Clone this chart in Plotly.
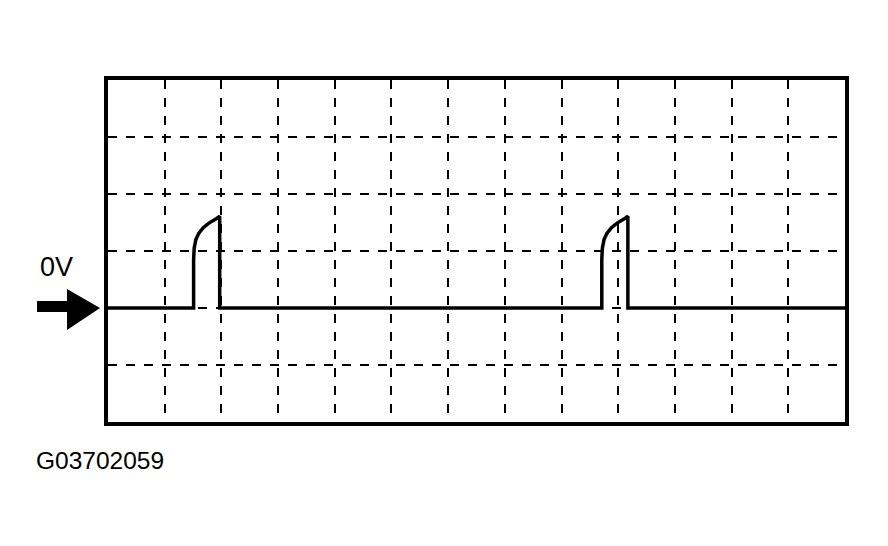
import plotly.graph_objects as go

# scope trace, in grid divisions (13 x 6 screen, 0 V on the 4th line down)
time_div = [0, 1.51, 1.51, 1.52, 1.55, 1.60, 1.68, 1.78, 1.90, 1.97, 1.97,
            8.71, 8.71, 8.72, 8.75, 8.80, 8.88, 8.98, 9.10, 9.17, 9.17, 13]
volt_div = [0, 0, 0.85, 1.05, 1.20, 1.31, 1.41, 1.49, 1.56, 1.61, 0,
            0, 0.85, 1.05, 1.20, 1.31, 1.41, 1.49, 1.56, 1.61, 0, 0]

x_divs = 13
y_min, y_max = -2, 4
zero_label = "0V"
fig_code = "G03702059"

fig = go.Figure()
fig.add_trace(go.Scatter(x=time_div, y=volt_div, mode="lines",
                         line=dict(color="black", width=3.5), hoverinfo="skip"))

axis_style = dict(showgrid=True, gridcolor="black", gridwidth=2, griddash="dash",
                  zeroline=False, showticklabels=False, ticks="",
                  showline=True, linecolor="black", linewidth=4, mirror=True, dtick=1)
fig.update_xaxes(range=[0, x_divs], **axis_style)
fig.update_yaxes(range=[y_min, y_max], **axis_style)

# big black arrow pointing at the 0 V line
y0 = (0 - y_min) / (y_max - y_min)
fig.add_shape(type="path", xref="paper", yref="paper", line_width=0, fillcolor="black",
              path=f"M -0.0963 {y0 + 0.0204} L -0.0556 {y0 + 0.0204} L -0.0556 {y0 + 0.0555} "
                   f"L -0.0108 {y0} L -0.0556 {y0 - 0.064} L -0.0556 {y0 - 0.0117} "
                   f"L -0.0963 {y0 - 0.0117} Z")

fig.add_annotation(text=zero_label, xref="paper", yref="paper", x=-0.0692, y=0.4526,
                   xanchor="center", yanchor="middle", showarrow=False,
                   font=dict(family="Liberation Sans", size=27, color="black"))
fig.add_annotation(text=fig_code, xref="paper", yref="paper", x=-0.101, y=-0.1139,
                   xanchor="left", yanchor="middle", showarrow=False,
                   font=dict(family="Liberation Sans", size=24.5, color="black"))

fig.update_layout(width=888, height=546, plot_bgcolor="white", paper_bgcolor="white",
                  margin=dict(l=100, r=50.5, t=71.5, b=132), showlegend=False)

fig.write_html("out.html")
